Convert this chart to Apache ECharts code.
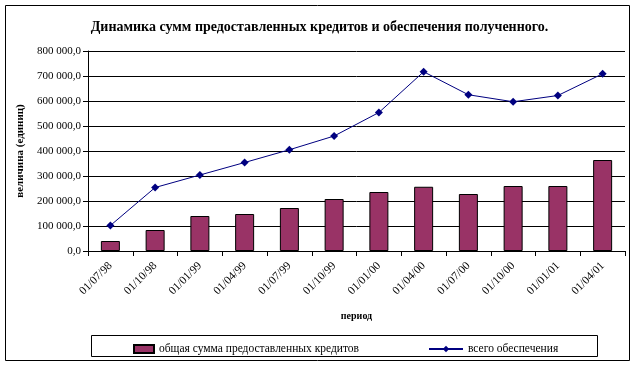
<!DOCTYPE html>
<html>
<head>
<meta charset="utf-8">
<script src="https://cdn.jsdelivr.net/npm/echarts@6/dist/echarts.min.js"></script>
<style>html,body{margin:0;padding:0;background:#fff}#c{width:639px;height:366px}</style>
</head>
<body>
<div id="c"></div>
<script>
var categories = ['01/07/98','01/10/98','01/01/99','01/04/99','01/07/99','01/10/99','01/01/00','01/04/00','01/07/00','01/10/00','01/01/01','01/04/01'];
var credits = [40000, 84000, 140000, 148000, 172000, 208000, 236000, 257000, 228000, 260000, 260000, 364000];
var collateral = [102000, 254000, 304000, 354000, 405000, 460000, 554000, 717000, 625000, 597000, 622000, 709000];
var seriesNames = ['общая сумма предоставленных кредитов', 'всего обеспечения'];
var titleText = 'Динамика сумм предоставленных кредитов и обеспечения полученного.';
var xName = 'период';
var yName = 'величина (единиц)';

function fmt(v) {
  var s = Math.round(v).toString();
  s = s.replace(/\B(?=(\d{3})+(?!\d))/g, ' ');
  return s + ',0';
}
var FONT = '"Liberation Serif", "Times New Roman", serif';
var chart = echarts.init(document.getElementById('c'), null, {renderer: 'canvas'});
chart.setOption({
  animation: false,
  backgroundColor: '#fff',
  textStyle: {fontFamily: FONT, color: '#000'},
  title: {
    text: titleText, left: 'center', top: 15,
    textStyle: {fontFamily: FONT, fontSize: 14, fontWeight: 'bold', color: '#000'}
  },
  graphic: [
    {type: 'rect', shape: {x: 5.5, y: 5.5, width: 624, height: 355}, style: {fill: 'none', stroke: '#000', lineWidth: 1}, z: -1},
    {type: 'rect', shape: {x: 91.5, y: 335.5, width: 506, height: 21}, style: {fill: 'none', stroke: '#000', lineWidth: 1}, z: -1}
  ],
  legend: [
    {
      data: [{name: seriesNames[0], icon: 'rect'}],
      left: 128, top: 338, itemWidth: 20, itemHeight: 8, itemGap: 4,
      textStyle: {fontFamily: FONT, fontSize: 11.5, color: '#000'}
    },
    {
      data: [seriesNames[1]],
      left: 423, top: 338, itemWidth: 34, itemHeight: 8,
      textStyle: {fontFamily: FONT, fontSize: 11.5, color: '#000'}
    }
  ],
  grid: {left: 88, right: 14, top: 51, bottom: 115, containLabel: false},
  xAxis: {
    type: 'category', data: categories, boundaryGap: true,
    name: xName, nameLocation: 'middle', nameGap: 60,
    nameTextStyle: {fontFamily: FONT, fontSize: 10, fontWeight: 'bold', color: '#000'},
    axisLine: {lineStyle: {color: '#000', width: 1}},
    axisTick: {show: true, length: 5, inside: false, alignWithLabel: false, lineStyle: {color: '#000'}},
    axisLabel: {rotate: 45, interval: 0, fontFamily: FONT, fontSize: 11.5, color: '#000', margin: 13}
  },
  yAxis: {
    type: 'value', min: 0, max: 800000, interval: 100000,
    name: yName, nameLocation: 'middle', nameGap: 50, nameRotate: 90,
    nameTextStyle: {fontFamily: FONT, fontSize: 11, fontWeight: 'bold', color: '#000'},
    axisLine: {show: true, lineStyle: {color: '#000', width: 1}},
    axisTick: {show: true, length: 5, lineStyle: {color: '#000'}},
    axisLabel: {formatter: fmt, fontFamily: FONT, fontSize: 11, color: '#000', margin: 7},
    splitLine: {show: true, lineStyle: {color: '#000', width: 1}}
  },
  series: [
    {
      name: seriesNames[0], type: 'bar', data: credits, barWidth: 19,
      itemStyle: {color: '#993366', borderColor: '#000', borderWidth: 1}
    },
    {
      name: seriesNames[1], type: 'line', data: collateral,
      symbol: 'diamond', symbolSize: 8, showSymbol: true,
      itemStyle: {color: '#000080'},
      lineStyle: {color: '#000080', width: 1}
    }
  ]
});
</script>
</body>
</html>
